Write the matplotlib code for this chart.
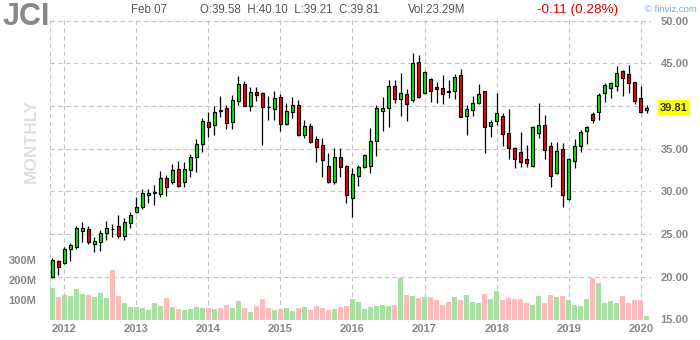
import matplotlib
matplotlib.use("Agg")
import matplotlib.pyplot as plt
import matplotlib.transforms as mtransforms
import numpy as np
import pandas as pd

plt.rcParams['font.family'] = ['Liberation Sans', 'DejaVu Sans']

# monthly candles, Nov 2011 .. Feb 2020
months = pd.date_range("2011-11-01", periods=100, freq="MS")

opens = [19.92, 21.80, 21.56, 23.20, 23.52, 25.39, 25.55, 23.79, 24.10, 25.08,
         25.64, 25.94, 24.80, 26.25, 27.54, 28.13, 29.53, 29.80, 29.65, 31.52,
         31.13, 32.58, 31.05, 32.46, 33.98, 35.51, 38.13, 37.73, 39.50, 39.73,
         38.09, 40.55, 42.54, 40.04, 41.60, 41.48, 39.90, 39.61, 41.02, 37.85,
         39.26, 40.12, 36.56, 37.66, 36.13, 35.39, 32.97, 31.05, 33.98, 32.97,
         29.18, 31.80, 32.89, 32.97, 35.86, 39.38, 39.73, 42.38, 40.78, 41.37,
         40.66, 45.12, 41.48, 43.13, 42.19, 42.07, 41.70, 41.80, 43.63, 38.87,
         39.49, 40.31, 41.72, 37.62, 38.20, 38.79, 36.80, 35.04, 34.57, 33.79,
         32.97, 36.80, 37.73, 35.27, 32.11, 34.92, 29.14, 33.52, 35.27, 37.03,
         39.02, 39.26, 41.48, 42.07, 42.30, 44.06, 43.71, 42.77, 40.90, 39.58]
highs = [22.19, 21.95, 23.44, 23.98, 25.94, 26.37, 25.94, 24.69, 25.47, 26.52,
         26.17, 27.23, 26.84, 27.62, 29.30, 30.23, 30.23, 30.70, 32.38, 31.90,
         33.20, 33.55, 33.44, 34.38, 36.13, 38.59, 39.34, 40.00, 41.17, 40.12,
         41.29, 43.52, 42.93, 42.19, 42.19, 41.60, 41.17, 41.76, 41.41, 40.39,
         41.05, 40.70, 38.36, 38.05, 36.48, 36.25, 34.45, 35.04, 35.04, 33.05,
         32.70, 33.09, 34.38, 37.38, 40.12, 41.02, 43.05, 43.05, 43.83, 41.95,
         46.17, 45.98, 44.14, 43.32, 42.77, 43.63, 43.05, 43.75, 44.30, 40.08,
         41.17, 42.58, 41.80, 38.36, 41.56, 39.14, 39.69, 35.16, 36.95, 35.43,
         37.66, 40.39, 38.95, 35.78, 35.78, 35.63, 33.87, 36.09, 37.19, 37.62,
         39.30, 41.48, 42.66, 42.81, 44.69, 44.22, 44.80, 42.85, 42.34, 40.10]
lows = [19.80, 20.20, 21.48, 21.87, 23.28, 24.10, 23.79, 22.89, 23.05, 24.30,
        24.69, 24.57, 24.30, 25.74, 27.42, 27.89, 28.67, 28.44, 29.30, 29.49,
        30.86, 30.47, 30.55, 31.72, 32.30, 34.57, 36.41, 36.60, 38.75, 37.30,
        37.30, 40.16, 39.95, 39.45, 40.55, 35.43, 38.36, 38.36, 37.11, 37.73,
        38.63, 36.50, 36.29, 35.62, 33.40, 31.64, 30.94, 30.82, 31.72, 28.67,
        26.95, 30.66, 32.77, 32.19, 34.18, 37.03, 37.50, 40.39, 38.87, 38.28,
        40.50, 40.95, 41.45, 40.51, 40.39, 40.27, 40.90, 40.78, 38.67, 36.60,
        38.83, 40.20, 34.45, 36.41, 37.77, 35.31, 33.79, 32.77, 32.89, 32.81,
        32.89, 36.29, 33.75, 30.55, 32.03, 28.20, 28.98, 32.77, 34.65, 35.55,
        37.97, 38.36, 40.51, 40.98, 41.80, 41.21, 41.48, 40.20, 39.14, 39.21]
closes = [21.95, 21.17, 23.20, 23.67, 25.66, 25.66, 24.10, 24.18, 25.08, 25.66,
          25.58, 24.80, 26.37, 27.19, 28.13, 29.77, 29.77, 29.88, 31.52, 30.55,
          32.46, 30.63, 32.58, 33.98, 35.51, 38.24, 37.58, 39.26, 39.40, 37.97,
          40.66, 42.58, 40.04, 41.60, 41.33, 39.84, 39.84, 40.90, 37.85, 39.38,
          40.12, 36.56, 37.66, 35.74, 35.23, 33.67, 31.05, 33.98, 32.81, 29.53,
          32.00, 32.81, 34.22, 35.86, 39.73, 39.73, 42.38, 40.78, 41.56, 40.20,
          45.00, 41.02, 43.95, 41.80, 41.95, 41.37, 41.65, 43.36, 38.75, 39.61,
          40.31, 41.41, 37.50, 38.09, 39.14, 36.68, 35.04, 33.75, 33.40, 33.28,
          37.50, 37.73, 34.80, 31.76, 34.69, 29.53, 33.75, 35.27, 36.91, 37.50,
          38.32, 41.25, 42.42, 42.66, 43.83, 43.24, 42.66, 40.55, 39.26, 39.81]
volume_m = [160, 115, 125, 120, 155, 130, 125, 115, 135, 110,
            250, 120, 85, 65, 65, 60, 50, 85, 70, 110,
            65, 55, 50, 55, 65, 60, 60, 55, 60, 75,
            60, 95, 60, 40, 70, 105, 60, 50, 55, 60,
            45, 60, 65, 50, 70, 60, 50, 55, 65, 70,
            105, 90, 55, 65, 70, 75, 70, 75, 210, 125,
            120, 110, 115, 115, 100, 75, 90, 115, 100, 125,
            90, 85, 130, 105, 145, 100, 110, 105, 105, 85,
            75, 120, 85, 125, 115, 120, 100, 75, 70, 105,
            210, 185, 85, 95, 85, 120, 85, 100, 100, 20]

price_grid = [20, 25, 30, 35, 40, 45, 50]
price_labels = [15, 20, 25, 30, 35, 45, 50]
vol_ticks = [100, 200, 300]

W, H = 700, 340
fig = plt.figure(figsize=(7, 3.4), dpi=100)
L, R, T, B = 50.3, 650.7, 20, 320
axv = fig.add_axes([L / W, 1 - B / H, (R - L) / W, (B - T) / H])
ax = axv.twinx()

x = np.arange(len(months))
o = np.array(opens); c = np.array(closes)
up = c >= o
xlim = (-0.33, 99.67)
ax.set_xlim(*xlim)
axv.set_xlim(*xlim)
ax.set_ylim(14.93, 50.07)
axv.set_ylim(0, 1500)

gcol = '#c4c4c4'
dash = (0, (4, 3))
jan = [i for i, m in enumerate(months) if m.month == 1]
for xv in jan + list(xlim):
    axv.axvline(xv, color=gcol, lw=0.8, ls=dash, zorder=0)
axv.hlines(price_grid, xlim[0], xlim[1], colors=gcol, lw=0.8, linestyles=dash,
           transform=ax.transData, zorder=0)

# volume
vcol = np.where(up, '#a8dfa2', '#ffbaba')
axv.bar(x, volume_m, width=0.82, color=vcol, linewidth=0, zorder=1)

# candles
ax.vlines(x, lows, highs, color='black', lw=0.9, zorder=2)
ccol = np.where(up, '#00f000', '#ff0000')
ax.bar(x, c - o, bottom=o, width=0.58, color=ccol, edgecolor='black',
       linewidth=0.85, zorder=3)

for a in (ax, axv):
    for s in a.spines.values():
        s.set_visible(False)

tcol = '#888888'
ax.set_yticks(price_labels, [f"{v:.2f}" for v in price_labels])
ax.tick_params(axis='y', length=0, pad=7, labelsize=8, labelcolor=tcol)
axv.set_yticks(vol_ticks, [f"{v}M" for v in vol_ticks])
axv.tick_params(axis='y', length=0, pad=10, labelsize=8, labelcolor=tcol)
axv.set_xticks(jan, [str(months[i].year) for i in jan])
axv.tick_params(axis='x', length=0, pad=3, labelsize=8, labelcolor=tcol)
for lab in ax.get_yticklabels() + axv.get_yticklabels() + axv.get_xticklabels():
    lab.set_fontweight('bold')

# last price label
tr = mtransforms.blended_transform_factory(ax.transAxes, ax.transData)
ax.text(1 + 9 / (R - L), closes[-1], f"{closes[-1]:.2f}", transform=tr,
        va='center', ha='left', fontsize=8, fontweight='bold', color='#333333',
        bbox=dict(facecolor='#ffff00', edgecolor='none', pad=1.5))

# header
def ft(px, py, s, **kw):
    fig.text(px / W, 1 - py / H, s, va='center', **kw)

ft(3, 17, "JCI", fontsize=22, fontweight='bold', color='#888888')
ft(131, 10, "Feb 07", fontsize=8.3, color='#555555')
ft(200, 10, "O:39.58  H:40.10  L:39.21  C:39.81", fontsize=8.3, color='#555555')
ft(408, 10, "Vol:23.29M", fontsize=8.3, color='#555555')
ft(537, 10, "-0.11 (0.28%)", fontsize=9.7, color='#dd0000')
ft(697, 10, "\u00a9 finviz.com", fontsize=6.8, color='#7fa8d8', ha='right')
fig.text(31 / W, 1 - 141 / H, "MONTHLY", rotation=90, ha='center', va='center',
         fontsize=12.5, fontweight='bold', color='#e0e0e0')

fig.savefig("out.png", dpi=100)
